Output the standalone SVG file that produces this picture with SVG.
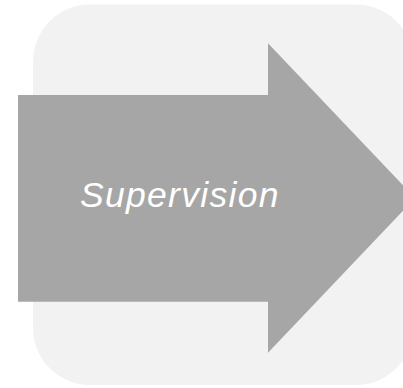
<svg xmlns="http://www.w3.org/2000/svg" width="403" height="388" viewBox="0 0 403 388">
<style>
.bg{fill:#f2f2f2}
.arrow{fill:#a6a6a6}
.lbl{font-family:"Liberation Sans",Arial,sans-serif;font-style:italic;font-size:35.5px;letter-spacing:1.3px;fill:#ffffff}
</style>
<g id="background">
<rect class="bg" x="33" y="4.5" width="380" height="380.5" rx="57" ry="57"/>
</g>
<g id="supervision">
<path class="arrow" d="M18,95 H268 V43.3 L415,198 L268,352.7 V301.7 H18 Z"/>
<text class="lbl" x="80" y="206.7">Supervision</text>
</g>
</svg>
